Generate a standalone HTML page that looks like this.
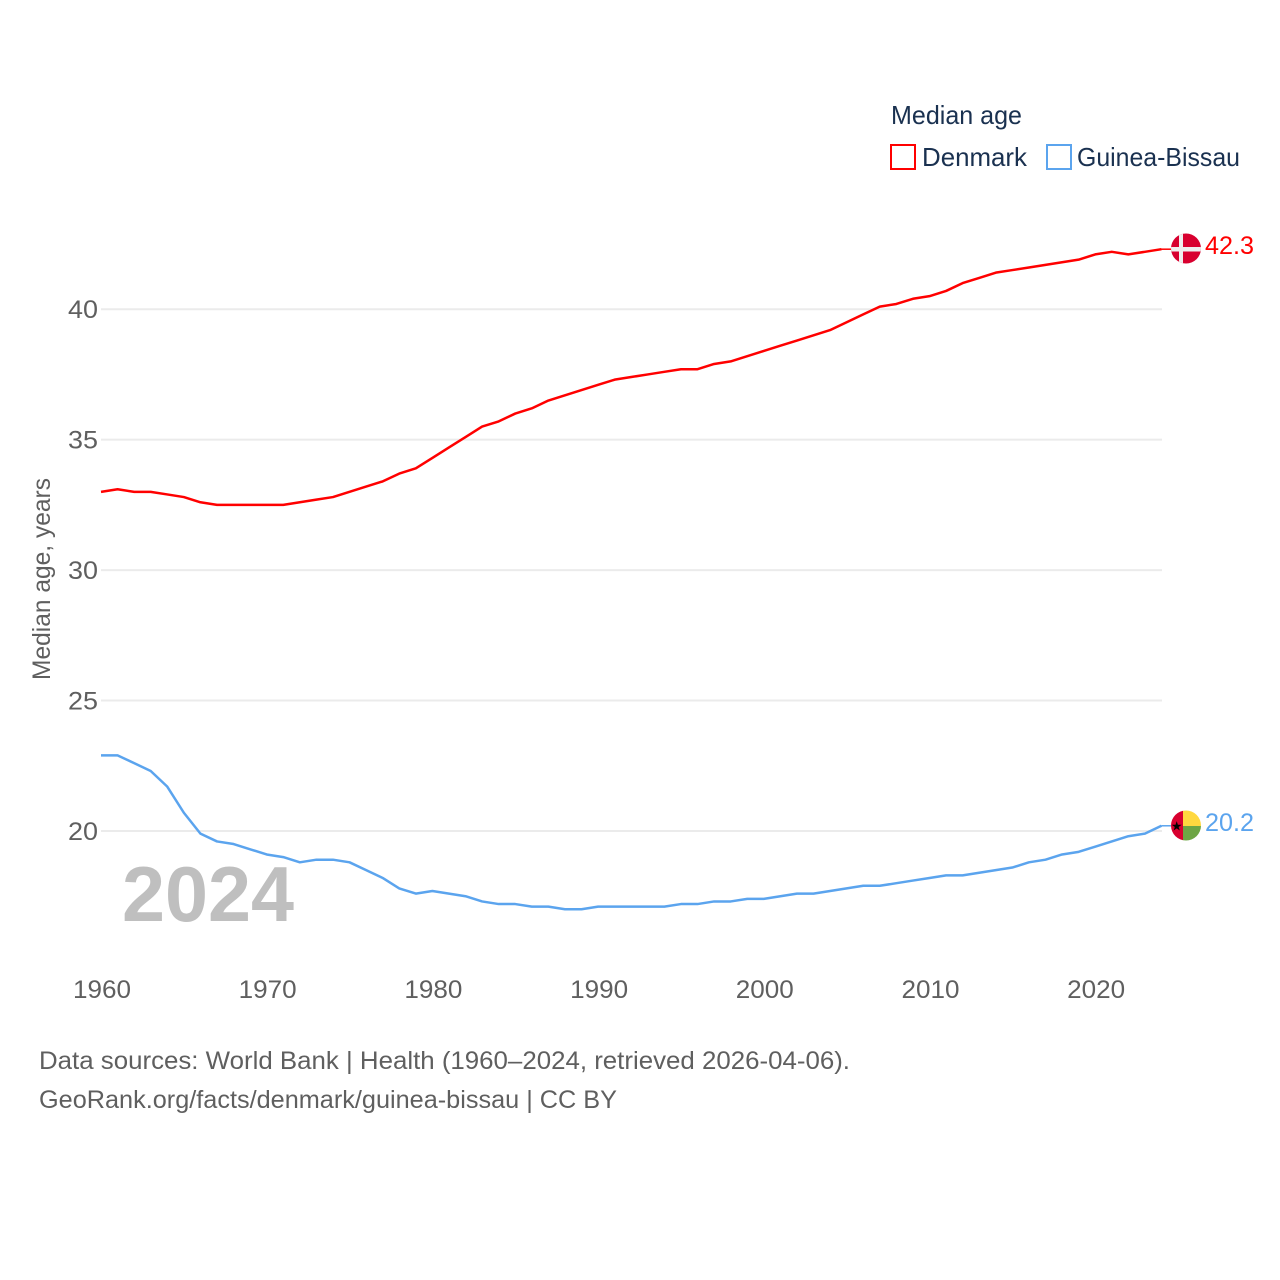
<!DOCTYPE html>
<html lang="en">
<head>
<meta charset="utf-8">
<title>Median age: Denmark and Guinea-Bissau</title>
<style>
html,body{margin:0;padding:0;background:#fff;}
svg{display:block;}
text{font-family:"Liberation Sans",sans-serif;}
</style>
</head>
<body>
<svg id="chart" xmlns="http://www.w3.org/2000/svg" width="1280" height="1280" viewBox="0 0 1280 1280">
  <rect width="1280" height="1280" fill="#fff"/>
  <defs>
    <clipPath id="clip-dk"><circle cx="1186" cy="248.5" r="15"/></clipPath>
    <clipPath id="clip-gw"><circle cx="1186" cy="825.5" r="15"/></clipPath>
  </defs>
  <g id="grid"></g>
  <g id="yticks"></g>
  <g id="xticks"></g>
  <text x="0" y="0" transform="translate(50,680) rotate(-90)" font-size="25" fill="#5f5f5f" textLength="202" lengthAdjust="spacingAndGlyphs">Median age, years</text>
  <text x="122" y="921" font-size="78" font-weight="700" fill="#bfbfbf" textLength="172" lengthAdjust="spacingAndGlyphs">2024</text>
  <g id="series"></g>

  <g>
    <text x="891" y="124" font-size="26" fill="#1a3150" textLength="131" lengthAdjust="spacingAndGlyphs">Median age</text>
    <g>
      <rect x="891" y="145" width="24" height="24" fill="none" stroke="#ff0000" stroke-width="2"/>
      <text x="922" y="166" font-size="26" fill="#1a3150" textLength="105" lengthAdjust="spacingAndGlyphs">Denmark</text>
    </g>
    <g>
      <rect x="1047" y="145" width="24" height="24" fill="none" stroke="#5ba4ee" stroke-width="2"/>
      <text x="1077" y="166" font-size="26" fill="#1a3150" textLength="163" lengthAdjust="spacingAndGlyphs">Guinea-Bissau</text>
    </g>
  </g>

  <g id="flags">
    <g clip-path="url(#clip-dk)">
      <rect x="1171" y="233" width="30" height="31" fill="#d8002f"/>
      <rect x="1179" y="233" width="4" height="31" fill="#eeeeee"/>
      <rect x="1171" y="247" width="30" height="4.5" fill="#eeeeee"/>
    </g>
    <g clip-path="url(#clip-gw)">
      <rect x="1171" y="810" width="12" height="31" fill="#d8002f"/>
      <rect x="1183" y="810" width="18" height="16" fill="#ffd83f"/>
      <rect x="1183" y="826" width="18" height="15" fill="#6da544"/>
      <text x="1176.7" y="830.5" font-size="13" text-anchor="middle" fill="#000">★</text>
    </g>
  </g>
  <text x="1205" y="254" font-size="25" fill="#ff0000" textLength="49" lengthAdjust="spacingAndGlyphs">42.3</text>
  <text x="1205" y="831" font-size="25" fill="#5ba4ee" textLength="49" lengthAdjust="spacingAndGlyphs">20.2</text>

  <text x="39" y="1069" font-size="25" fill="#5f5f5f" textLength="811" lengthAdjust="spacingAndGlyphs">Data sources: World Bank | Health (1960–2024, retrieved 2026-04-06).</text>
  <text x="39" y="1108" font-size="25" fill="#5f5f5f" textLength="578" lengthAdjust="spacingAndGlyphs">GeoRank.org/facts/denmark/guinea-bissau | CC BY</text>
</svg>
<script>
const firstYear = 1960;
const denmarkValues = [33.0,33.1,33.0,33.0,32.9,32.8,32.6,32.5,32.5,32.5,32.5,32.5,32.6,32.7,32.8,33.0,33.2,33.4,33.7,33.9,34.3,34.7,35.1,35.5,35.7,36.0,36.2,36.5,36.7,36.9,37.1,37.3,37.4,37.5,37.6,37.7,37.7,37.9,38.0,38.2,38.4,38.6,38.8,39.0,39.2,39.5,39.8,40.1,40.2,40.4,40.5,40.7,41.0,41.2,41.4,41.5,41.6,41.7,41.8,41.9,42.1,42.2,42.1,42.2,42.3];
const guineaBissauValues = [22.9,22.9,22.6,22.3,21.7,20.7,19.9,19.6,19.5,19.3,19.1,19.0,18.8,18.9,18.9,18.8,18.5,18.2,17.8,17.6,17.7,17.6,17.5,17.3,17.2,17.2,17.1,17.1,17.0,17.0,17.1,17.1,17.1,17.1,17.1,17.2,17.2,17.3,17.3,17.4,17.4,17.5,17.6,17.6,17.7,17.8,17.9,17.9,18.0,18.1,18.2,18.3,18.3,18.4,18.5,18.6,18.8,18.9,19.1,19.2,19.4,19.6,19.8,19.9,20.2];
const yTickValues = [20,25,30,35,40];
const xTickValues = [1960,1970,1980,1990,2000,2010,2020];

const NS = 'http://www.w3.org/2000/svg';
function xScale(year){ return 101 + (year - 1960) * 16.57; }
function yScale(v){ return 831 - (v - 20) * 26.09; }
function make(tag, attrs, parent, text){
  const el = document.createElementNS(NS, tag);
  for (const k in attrs) el.setAttribute(k, attrs[k]);
  if (text !== undefined) el.textContent = text;
  parent.appendChild(el);
  return el;
}
const grid = document.getElementById('grid');
const yticks = document.getElementById('yticks');
const xticks = document.getElementById('xticks');
const series = document.getElementById('series');

yTickValues.forEach(function(v){
  const line = make('line', {x1:101, x2:1162, y1:yScale(v), y2:yScale(v), stroke:'#ebebeb', 'stroke-width':2}, grid);
  
  
  const label = make('text', {x:98, y:yScale(v)+9, 'font-size':25, fill:'#5f5f5f', 'text-anchor':'end', textLength:30, lengthAdjust:'spacingAndGlyphs'}, yticks, String(v));
  
  
});
xTickValues.forEach(function(y){
  const label = make('text', {x:xScale(y)+1, y:998, 'font-size':25, fill:'#5f5f5f', 'text-anchor':'middle', textLength:58, lengthAdjust:'spacingAndGlyphs'}, xticks, String(y));
  
  
});
function drawSeries(values, color, name){
  const pts = values.map(function(v, i){ return xScale(firstYear + i).toFixed(2) + ',' + yScale(v).toFixed(2); });
  const path = make('polyline', {points:pts.join(' '), fill:'none', stroke:color, 'stroke-width':2.5, 'stroke-linejoin':'round'}, series);
  
  
  const last = yScale(values[values.length - 1]);
  const lead = make('line', {x1:xScale(firstYear + values.length - 1), x2:1172, y1:last, y2:last, stroke:color, 'stroke-width':1.5}, series);
  
  
}
drawSeries(denmarkValues, '#ff0000', 'denmark-line');
drawSeries(guineaBissauValues, '#5ba4ee', 'guinea-bissau-line');
</script>
</body>
</html>
